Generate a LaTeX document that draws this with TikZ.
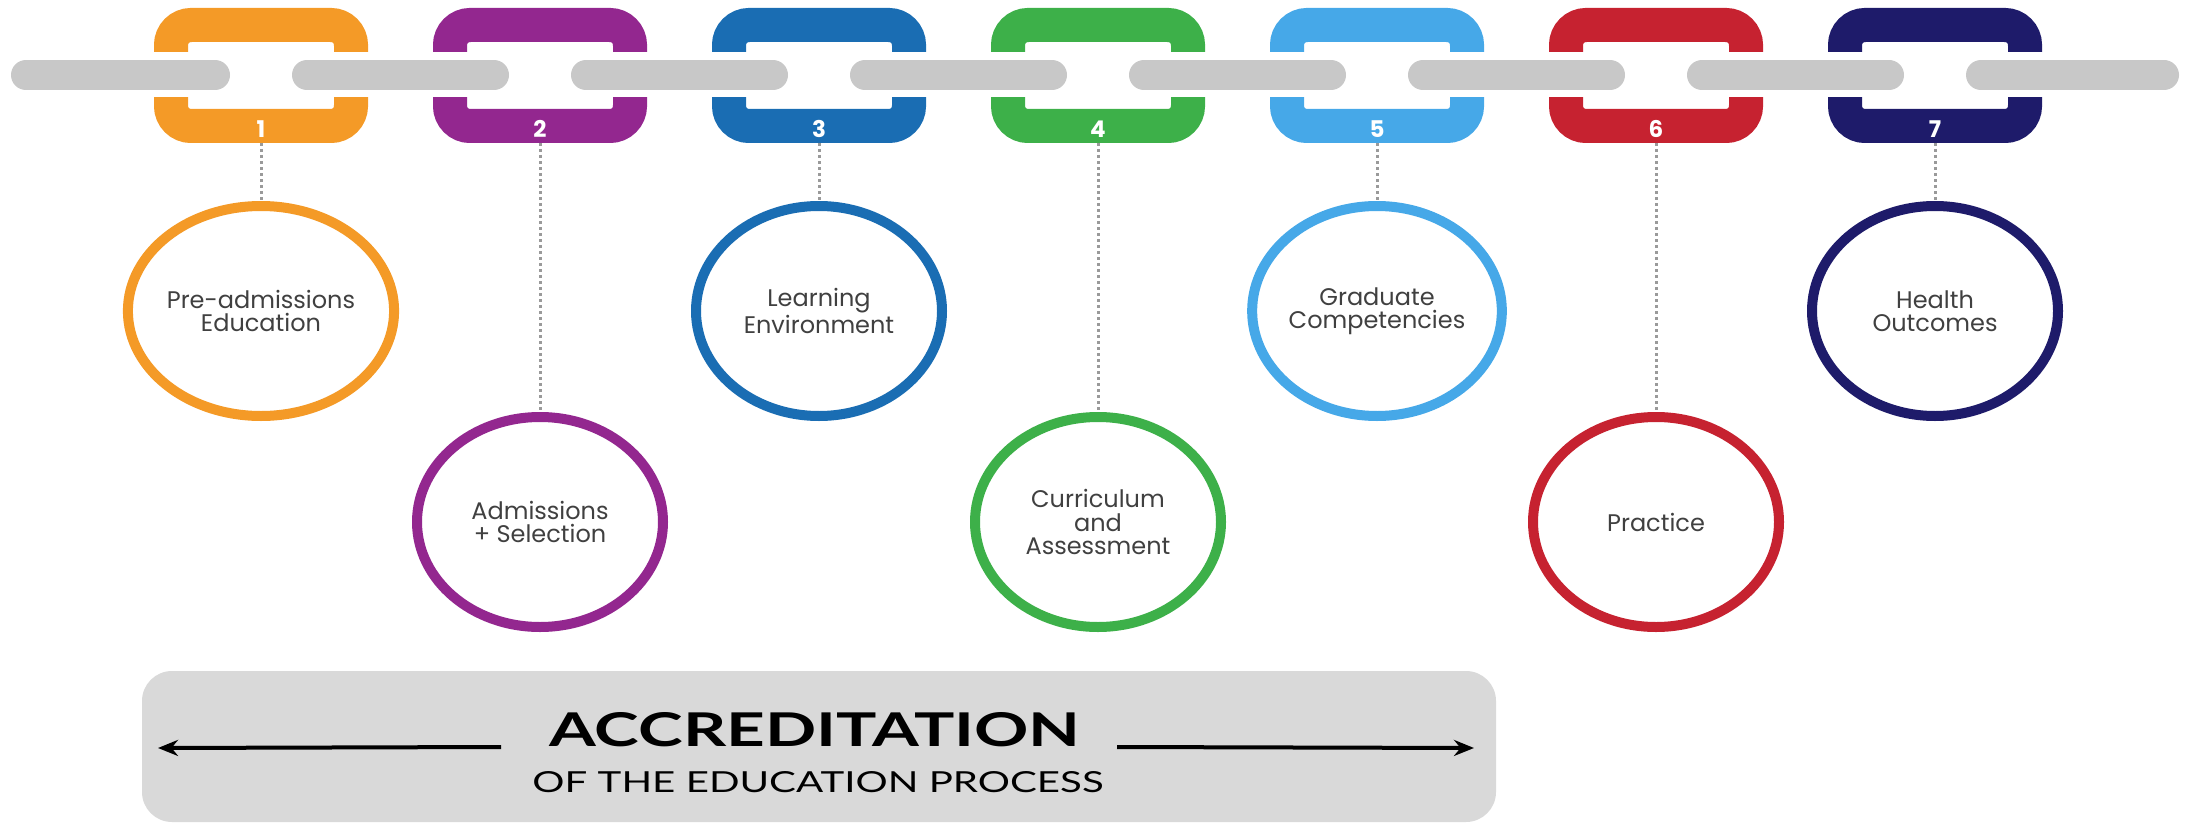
\documentclass[tikz,border=0pt]{standalone}
\usepackage{fontspec}
\setmainfont{Poppins}
\newfontfamily\accfont{Lato}
\usetikzlibrary{shapes.geometric,arrows.meta}
\definecolor{c1}{HTML}{F49A27}
\definecolor{c2}{HTML}{93278F}
\definecolor{c3}{HTML}{1A6DB3}
\definecolor{c4}{HTML}{3DB049}
\definecolor{c5}{HTML}{46A8E8}
\definecolor{c6}{HTML}{C62230}
\definecolor{c7}{HTML}{1E1B6A}
\definecolor{barg}{HTML}{C8C8C8}
\definecolor{boxg}{HTML}{D9D9D9}
\definecolor{dotg}{HTML}{9A9A9A}
\definecolor{txt}{HTML}{404040}
\pgfdeclarelayer{bg}
\pgfsetlayers{bg,main}
\begin{document}
\begin{tikzpicture}[x=0.5pt,y=-0.5pt,
  linkbox/.style={draw=#1, line width=17pt, rounded corners=10pt, minimum width=90pt, minimum height=50.5pt, inner sep=0pt},
  stage/.style={ellipse, draw=#1, fill=white, line width=5pt, minimum width=123pt, minimum height=105pt, inner sep=0pt, align=center, text=txt, font=\fontsize{12}{11.6}\selectfont},
  num/.style={text=white, font=\bfseries\fontsize{11.5}{11.5}\selectfont, inner sep=0pt},
  halo/.style={white, line width=22.5pt, line cap=round},
  bar/.style={barg, line width=15pt, line cap=round},
  dots/.style={dotg, line width=1.5pt, dash pattern=on 1.5pt off 1.5pt},
  arr/.style={line width=2pt, -{Stealth[length=10pt,width=8pt]}}
]
\useasboundingbox (0,0) rectangle (2190,824);
% links
\node[linkbox=c1] (L1) at (261,75.5) {};
\node[linkbox=c2] (L2) at (540,75.5) {};
\node[linkbox=c3] (L3) at (819,75.5) {};
\node[linkbox=c4] (L4) at (1098,75.5) {};
\node[linkbox=c5] (L5) at (1377,75.5) {};
\node[linkbox=c6] (L6) at (1656,75.5) {};
\node[linkbox=c7] (L7) at (1935,75.5) {};
% chain bars
\coordinate (s0) at (26,75);
\coordinate (s8) at (2164,75);
\foreach \a/\b in {L1/L2, L2/L3, L3/L4, L4/L5, L5/L6, L6/L7}{
  \draw[halo] ([xshift=23pt]\a.center |- 0,75) -- ([xshift=-23pt]\b.center |- 0,75);
}
\draw[halo] (s0) -- ([xshift=-23pt]L1.center |- 0,75);
\draw[bar] (s0) -- ([xshift=-23pt]L1.center |- 0,75);
\foreach \a/\b in {L1/L2, L2/L3, L3/L4, L4/L5, L5/L6, L6/L7}{
  \draw[bar] ([xshift=23pt]\a.center |- 0,75) -- ([xshift=-23pt]\b.center |- 0,75);
}
\draw[halo] ([xshift=23pt]L7.center |- 0,75) -- (s8);
\draw[bar] ([xshift=23pt]L7.center |- 0,75) -- (s8);
% numbers
\node[num] (N1) at (261,129) {1};
\node[num] (N2) at (540,129) {2};
\node[num] (N3) at (819,129) {3};
\node[num] (N4) at (1098,129) {4};
\node[num] (N5) at (1377,129) {5};
\node[num] (N6) at (1656,129) {6};
\node[num] (N7) at (1935,129) {7};
% stages
\node[stage=c1] (C1) at (261,311) {Pre-admissions\\Education};
\node[stage=c2] (C2) at (540,522) {Admissions\\+ Selection};
\node[stage=c3] (C3) at (819,311) {Learning\\Environment};
\node[stage=c4] (C4) at (1098,522) {Curriculum\\and\\Assessment};
\node[stage=c5] (C5) at (1377,311) {Graduate\\Competencies};
\node[stage=c6] (C6) at (1656,522) {Practice};
\node[stage=c7] (C7) at (1935,311) {Health\\Outcomes};
\begin{pgfonlayer}{bg}
\foreach \i in {1,...,7}{
  \draw[dots] (L\i.south) -- (C\i.north);
}
\end{pgfonlayer}
% accreditation box
\node[fill=boxg, rounded corners=15pt, minimum width=677pt, minimum height=75.5pt, inner sep=0pt] (box) at (819,746.5) {};
\node[inner sep=0pt, anchor=south] (t1) at (815,747) {\resizebox{265.5pt}{17pt}{\accfont\bfseries ACCREDITATION}};
\node[inner sep=0pt, anchor=south] (t2) at (818,793) {\resizebox{285.5pt}{10.5pt}{\accfont OF THE EDUCATION PROCESS}};
\coordinate (aL) at (158,748);
\coordinate (aR) at (1474,748);
\draw[arr] ([xshift=-24pt]t1.south west) -- (aL);
\draw[arr] ([xshift=18pt]t1.south east) -- (aR);
\end{tikzpicture}
\end{document}
